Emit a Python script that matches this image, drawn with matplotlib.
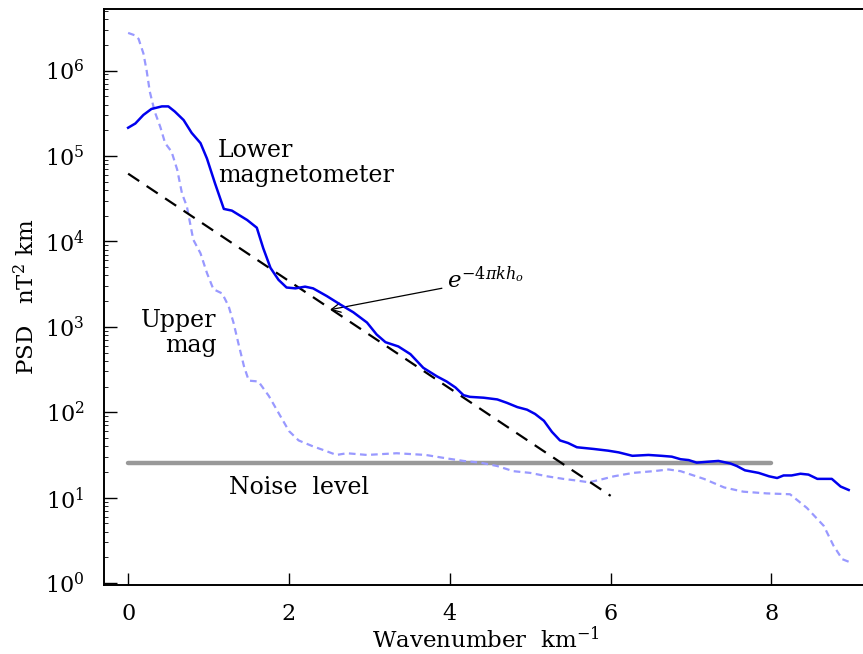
import matplotlib
matplotlib.use('Agg')
import matplotlib.pyplot as plt
import numpy as np

plt.rcParams['font.family'] = ['DejaVu Serif']
plt.rcParams['mathtext.fontset'] = 'dejavuserif'

# lower magnetometer (solid blue): wavenumber, log10(PSD)
k_low = [0.0, 0.09, 0.19, 0.29, 0.42, 0.5, 0.58, 0.69, 0.79, 0.9, 0.98, 1.08, 1.19,
         1.29, 1.48, 1.6, 1.68, 1.77, 1.87, 1.97, 2.08, 2.2, 2.3, 2.47, 2.64, 2.8,
         2.97, 3.09, 3.2, 3.36, 3.51, 3.67, 3.84, 3.96, 4.07, 4.17, 4.25, 4.42, 4.59,
         4.71, 4.84, 4.96, 5.06, 5.17, 5.27, 5.37, 5.47, 5.58, 5.79, 5.97, 6.1, 6.27,
         6.47, 6.63, 6.76, 6.87, 6.97, 7.07, 7.2, 7.34, 7.49, 7.57, 7.67, 7.84, 7.97,
         8.07, 8.15, 8.25, 8.36, 8.46, 8.57, 8.75, 8.86, 8.96]
lg_low = [5.33, 5.38, 5.48, 5.55, 5.58, 5.58, 5.52, 5.42, 5.27, 5.15, 4.97, 4.68, 4.38,
          4.36, 4.25, 4.16, 3.92, 3.69, 3.55, 3.46, 3.45, 3.47, 3.45, 3.36, 3.26, 3.17,
          3.05, 2.91, 2.82, 2.77, 2.68, 2.52, 2.42, 2.36, 2.29, 2.2, 2.18, 2.17, 2.15,
          2.11, 2.06, 2.03, 1.98, 1.9, 1.77, 1.67, 1.64, 1.59, 1.57, 1.55, 1.53, 1.49,
          1.5, 1.49, 1.48, 1.45, 1.44, 1.41, 1.42, 1.43, 1.4, 1.37, 1.32, 1.29, 1.25,
          1.23, 1.26, 1.26, 1.28, 1.27, 1.22, 1.22, 1.13, 1.09]

# upper magnetometer (dashed light blue)
k_up = [0.0, 0.09, 0.13, 0.19, 0.23, 0.27, 0.33, 0.4, 0.46, 0.54, 0.61, 0.67, 0.73,
        0.81, 0.9, 0.98, 1.06, 1.17, 1.25, 1.31, 1.37, 1.44, 1.5, 1.62, 1.75, 1.89,
        2.0, 2.12, 2.3, 2.45, 2.59, 2.72, 2.97, 3.34, 3.7, 3.96, 4.17, 4.38, 4.59,
        4.79, 5.0, 5.21, 5.41, 5.58, 5.73, 5.87, 6.04, 6.28, 6.53, 6.72, 6.87, 7.16,
        7.41, 7.65, 7.94, 8.23, 8.44, 8.65, 8.77, 8.88, 8.96]
lg_up = [6.44, 6.41, 6.37, 6.2, 6.0, 5.75, 5.52, 5.34, 5.15, 5.05, 4.84, 4.56, 4.41,
         4.02, 3.86, 3.63, 3.44, 3.39, 3.24, 3.05, 2.81, 2.54, 2.37, 2.36, 2.19, 1.96,
         1.78, 1.67, 1.6, 1.55, 1.5, 1.52, 1.5, 1.52, 1.5, 1.46, 1.43, 1.41, 1.37,
         1.31, 1.29, 1.25, 1.22, 1.2, 1.18, 1.21, 1.25, 1.29, 1.31, 1.33, 1.31, 1.22,
         1.12, 1.07, 1.05, 1.04, 0.88, 0.67, 0.44, 0.28, 0.25]

# exponential fit line end points and noise level
k_fit = [0.0, 6.0]
psd_fit = [6.2e4, 10.5]
k_noise = [0.0, 8.0]
psd_noise = [25.5, 25.5]

fig = plt.figure(figsize=(8.63, 6.54), dpi=100)
ax = fig.add_axes([104/863, 69/654, 764/863, 576/654])

ax.plot(k_noise, psd_noise, color='#999999', lw=3.2, solid_capstyle='round', zorder=1)
ax.plot(k_up, 10**np.array(lg_up), color='#9999ff', lw=1.6, dashes=(3, 2), zorder=2)
ax.plot(k_fit, psd_fit, color='black', lw=1.6, dashes=(6, 4), zorder=3)
ax.plot(k_low, 10**np.array(lg_low), color='#0000ee', lw=1.8, zorder=4)

ax.set_yscale('log')
ax.set_xlim(-0.3, 9.2)
ax.set_ylim(0.95, 10**6.72)
ax.set_xticks([0, 2, 4, 6, 8])
ax.set_yticks([1, 10, 100, 1e3, 1e4, 1e5, 1e6])
ax.set_yticklabels(['$10^{%d}$' % i for i in range(7)])

ax.spines['right'].set_visible(False)
for s in ['left', 'bottom', 'top']:
    ax.spines[s].set_linewidth(1.4)
ax.tick_params(which='major', direction='in', length=9, width=1.0, labelsize=16)
ax.tick_params(axis='y', which='major', pad=14)
ax.tick_params(axis='x', which='major', pad=13)
ax.tick_params(axis='y', which='minor', direction='in', length=3, width=0.6)
ax.tick_params(axis='x', which='minor', bottom=False)

ax.set_xlabel('Wavenumber  km$^{-1}$', fontsize=16.5, labelpad=1)
ax.set_ylabel('PSD   nT$^2$ km', fontsize=16.5, labelpad=4)

ax.text(1.12, 10**4.64, 'Lower\nmagnetometer', fontsize=17, ha='left', va='bottom',
        linespacing=1.1)
ax.text(1.1, 10**2.93, 'Upper\nmag', fontsize=17, ha='right', va='center',
        multialignment='right', linespacing=1.1)
ax.text(1.26, 10**1.12, 'Noise  level', fontsize=17, ha='left', va='center')

ax.annotate('$e^{-4\\pi k h_o}$', xy=(2.51, 10**3.2), xytext=(3.97, 10**3.55),
            fontsize=16.5, ha='left', va='center',
            arrowprops=dict(arrowstyle='->', color='black', lw=0.9,
                            shrinkA=2, shrinkB=0))

fig.savefig('out.png', dpi=100)
